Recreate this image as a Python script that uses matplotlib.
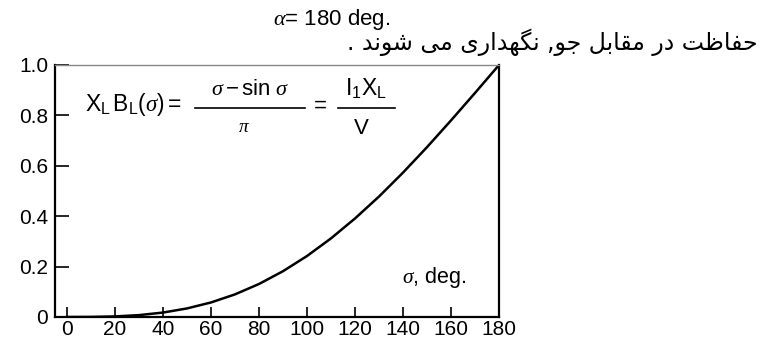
import matplotlib
matplotlib.use("Agg")
import matplotlib.pyplot as plt
from matplotlib.lines import Line2D

# values, sigma in degrees
sigma_deg = [0, 10, 20, 30, 40, 50, 60, 70, 80, 90, 100, 110, 120, 130, 140, 150, 160, 170, 180]
xb = [0.0, 0.0003, 0.0023, 0.0075, 0.0176, 0.034, 0.0577, 0.0898, 0.131, 0.1817,
      0.242, 0.312, 0.391, 0.478, 0.573, 0.674, 0.780, 0.889, 1.0]

x_ticks = [0, 20, 40, 60, 80, 100, 120, 140, 160, 180]
y_ticks = [0, 0.2, 0.4, 0.6, 0.8, 1.0]
y_tick_labels = ["0", "0.2", "0.4", "0.6", "0.8", "1.0"]

top_title = r"$\alpha$= 180 deg."
x_note = r"$\sigma$, deg."
persian = "حفاظت در مقابل جو, نگهداری می شوند ."

# (isolated, final, initial, medial); None = does not join forward
FORMS = {
    "ا": ("\ufe8d", "\ufe8e", None, None),
    "ب": ("\ufe8f", "\ufe90", "\ufe91", "\ufe92"),
    "ت": ("\ufe95", "\ufe96", "\ufe97", "\ufe98"),
    "ج": ("\ufe9d", "\ufe9e", "\ufe9f", "\ufea0"),
    "ح": ("\ufea1", "\ufea2", "\ufea3", "\ufea4"),
    "د": ("\ufea9", "\ufeaa", None, None),
    "ر": ("\ufead", "\ufeae", None, None),
    "ش": ("\ufeb5", "\ufeb6", "\ufeb7", "\ufeb8"),
    "ظ": ("\ufec5", "\ufec6", "\ufec7", "\ufec8"),
    "ف": ("\ufed1", "\ufed2", "\ufed3", "\ufed4"),
    "ق": ("\ufed5", "\ufed6", "\ufed7", "\ufed8"),
    "ل": ("\ufedd", "\ufede", "\ufedf", "\ufee0"),
    "م": ("\ufee1", "\ufee2", "\ufee3", "\ufee4"),
    "ن": ("\ufee5", "\ufee6", "\ufee7", "\ufee8"),
    "ه": ("\ufee9", "\ufeea", "\ufeeb", "\ufeec"),
    "و": ("\ufeed", "\ufeee", None, None),
    "گ": ("\ufb92", "\ufb93", "\ufb94", "\ufb95"),
    "ی": ("\ufbfc", "\ufbfd", "\ufbfe", "\ufbff"),
}


def shape_rtl(text):
    # matplotlib has no arabic shaping: pick the joined glyph forms by hand
    out = []
    for i, ch in enumerate(text):
        if ch not in FORMS:
            out.append(ch)
            continue
        prev = text[i - 1] if i > 0 else ""
        nxt = text[i + 1] if i + 1 < len(text) else ""
        join_prev = prev in FORMS and FORMS[prev][2] is not None
        join_next = FORMS[ch][2] is not None and nxt in FORMS
        iso, fin, ini, med = FORMS[ch]
        if join_prev and join_next:
            out.append(med)
        elif join_prev:
            out.append(fin)
        elif join_next:
            out.append(ini)
        else:
            out.append(iso)
    return "".join(reversed(out))


W, H = 763, 342


def px(x, y):
    return x / W, 1 - y / H


plt.rcParams["font.family"] = ["Liberation Sans", "DejaVu Sans"]
plt.rcParams["mathtext.fontset"] = "custom"
plt.rcParams["mathtext.rm"] = "Liberation Sans"
plt.rcParams["mathtext.it"] = "Liberation Serif:italic"

fig = plt.figure(figsize=(W / 100, H / 100), dpi=100)
ax = fig.add_axes([55 / W, 1 - 317 / H, (499 - 55) / W, (317 - 65) / H])

ax.plot(sigma_deg, xb, color="black", lw=1.8)

ax.set_xlim(-5, 180)
ax.set_ylim(0, 1.0)
ax.set_xticks(x_ticks)
ax.set_yticks(y_ticks)
ax.set_yticklabels(y_tick_labels)
ax.tick_params(axis="both", direction="in", labelsize=15, colors="black")
ax.tick_params(axis="x", length=7, width=1.2, pad=2)
ax.tick_params(axis="y", length=10, width=1.2, pad=5)
for side in ["left", "bottom", "right"]:
    ax.spines[side].set_linewidth(1.6)
ax.spines["top"].set_color("#888888")
ax.spines["top"].set_linewidth(1.0)

# formula, built from pieces placed in pixel coordinates
fig.text(*px(85, 104), r"$\mathrm{X_L\,B_L}(\sigma) =$", fontsize=16.5,
         ha="left", va="center")
fig.text(*px(250, 89), r"$\sigma - \mathrm{sin}\ \sigma$", fontsize=16,
         ha="center", va="center")
fig.text(*px(244, 128), r"$\pi$", fontsize=14, ha="center", va="center")
fig.text(*px(320, 106), "=", fontsize=16, ha="center", va="center")
fig.text(*px(366, 89), r"$\mathrm{I_1 X_L}$", fontsize=16.5, ha="center", va="center")
fig.text(*px(361, 128), "V", fontsize=16, ha="center", va="center")
for x0, x1 in [(195, 305), (338, 395)]:
    (a, yy), (b, _) = px(x0, 108), px(x1, 108)
    fig.add_artist(Line2D([a, b], [yy, yy], color="black", lw=1.2,
                          transform=fig.transFigure))

fig.text(*px(434, 278), x_note, fontsize=15.5, ha="center", va="center")
fig.text(*px(332, 19), top_title, fontsize=16, ha="center", va="center")
fig.text(*px(758, 42), shape_rtl(persian), fontsize=17, ha="right",
         va="center", family=["DejaVu Sans"])

fig.savefig("out.png", dpi=100)
